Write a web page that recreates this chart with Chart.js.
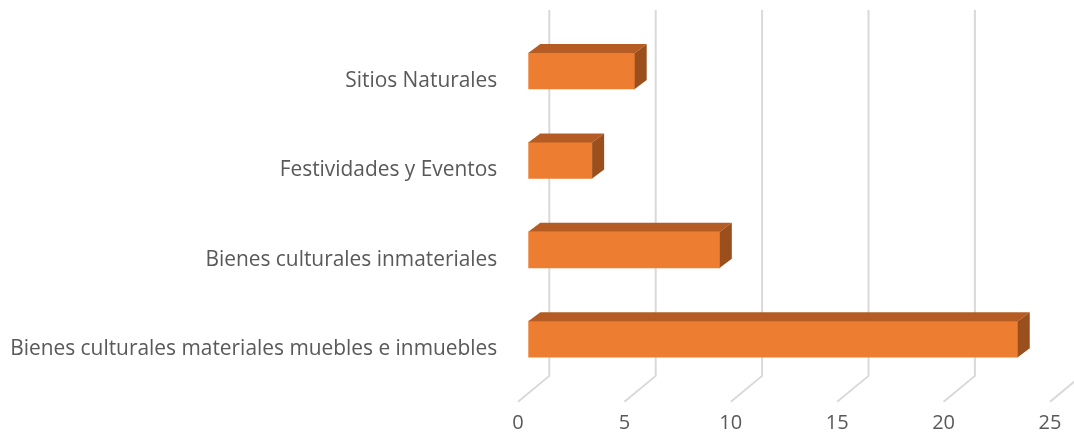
<!DOCTYPE html>
<html>
<head>
<meta charset="utf-8">
<script src="https://cdn.jsdelivr.net/npm/chart.js@4.4.1/dist/chart.umd.min.js"></script>
<style>
  html, body { margin: 0; padding: 0; background: #ffffff; }
  canvas { display: block; }
</style>
</head>
<body>
<canvas id="chart" width="1074" height="435"></canvas>
<script>
// categories, top to bottom
const categories = [
  "Sitios Naturales",
  "Festividades y Eventos",
  "Bienes culturales inmateriales",
  "Bienes culturales materiales muebles e inmuebles"
];
const values = [5, 3, 9, 23];
const xTicks = [0, 5, 10, 15, 20, 25];

const FRONT = "#ED7D31";
const TOP = "#B45C23";
const SIDE = "#9A4F1D";
const GRID = "#D9D9D9";
const TEXT = "#595959";

// depth of the bars and of the floor/back wall
const BAR_DX = 12, BAR_DY = 9;
const WALL_DX = 21, FLOOR_DX = -10.3;

// back wall grid lines + slanted floor lines
const wallGrid = {
  id: "wallGrid",
  beforeDatasetsDraw(chart) {
    const { ctx, chartArea, scales: { x } } = chart;
    const wallBottom = chartArea.bottom - 8;
    const floorFront = chartArea.bottom + 17.8;
    ctx.save();
    ctx.strokeStyle = GRID;
    ctx.lineWidth = 2;
    xTicks.forEach(v => {
      const px = x.getPixelForValue(v);
      ctx.beginPath();
      ctx.moveTo(px + WALL_DX, 10);
      ctx.lineTo(px + WALL_DX, wallBottom);
      ctx.lineTo(px + FLOOR_DX, floorFront);
      ctx.stroke();
    });
    ctx.restore();
  }
};

// top and end faces so the bars read as boxes
const barFaces = {
  id: "barFaces",
  afterDatasetsDraw(chart) {
    const { ctx } = chart;
    const meta = chart.getDatasetMeta(0);
    ctx.save();
    meta.data.forEach(bar => {
      const { x, y, base, height } = bar.getProps(["x", "y", "base", "height"], true);
      const top = y - height / 2, bottom = y + height / 2;
      ctx.fillStyle = TOP;
      ctx.beginPath();
      ctx.moveTo(base, top);
      ctx.lineTo(x, top);
      ctx.lineTo(x + BAR_DX, top - BAR_DY);
      ctx.lineTo(base + BAR_DX, top - BAR_DY);
      ctx.closePath();
      ctx.fill();
      ctx.fillStyle = SIDE;
      ctx.beginPath();
      ctx.moveTo(x, top);
      ctx.lineTo(x + BAR_DX, top - BAR_DY);
      ctx.lineTo(x + BAR_DX, bottom - BAR_DY);
      ctx.lineTo(x, bottom);
      ctx.closePath();
      ctx.fill();
    });
    ctx.restore();
  }
};

// keep the plot box fixed: no extra room for edge tick labels
function noEdgePadding(scale) {
  scale.paddingLeft = 0;
  scale.paddingRight = 0;
  scale.paddingTop = 0;
  scale.paddingBottom = 0;
}

new Chart(document.getElementById("chart"), {
  type: "bar",
  data: {
    labels: categories,
    datasets: [{
      data: values,
      backgroundColor: FRONT,
      borderWidth: 0,
      barThickness: 36
    }]
  },
  options: {
    indexAxis: "y",
    responsive: false,
    animation: false,
    layout: { padding: { top: 26.3, right: 13.7, left: 0, bottom: 0 } },
    plugins: {
      legend: { display: false },
      tooltip: { enabled: false }
    },
    scales: {
      x: {
        min: 0,
        max: 25,
        grid: { display: false, drawTicks: false },
        border: { display: false },
        ticks: {
          stepSize: 5,
          color: TEXT,
          font: { family: "Open Sans", size: 20 },
          padding: 27.5,
          labelOffset: -10.3
        },
        afterFit(scale) {
          scale.height = 51.1;
          noEdgePadding(scale);
        }
      },
      y: {
        grid: { display: false, drawTicks: false },
        border: { display: false },
        ticks: {
          color: TEXT,
          font: { family: "Open Sans", size: 20.9 },
          padding: 31,
          labelOffset: 10
        },
        afterFit(scale) {
          scale.width = 528.3;
          noEdgePadding(scale);
        }
      }
    }
  },
  plugins: [wallGrid, barFaces]
});
</script>
</body>
</html>
